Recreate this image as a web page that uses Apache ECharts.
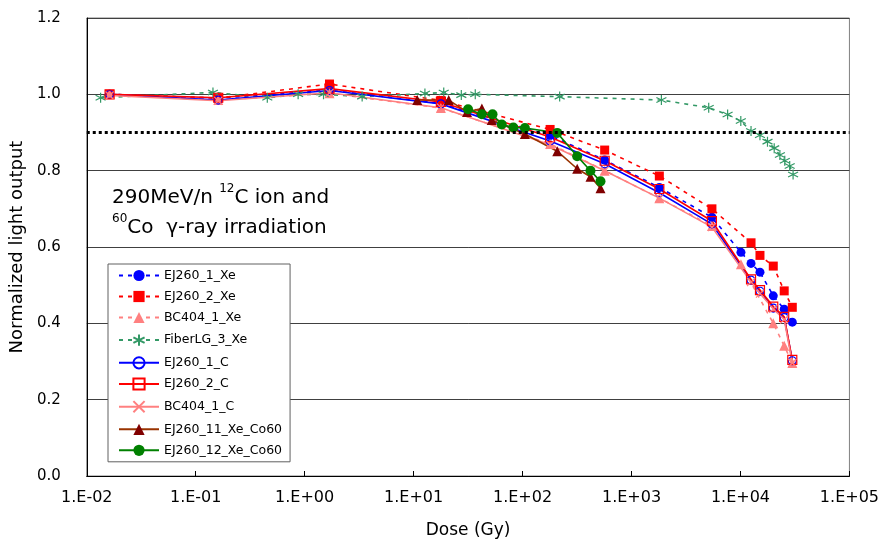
<!DOCTYPE html>
<html>
<head>
<meta charset="utf-8">
<script src="https://cdn.jsdelivr.net/npm/echarts@6/dist/echarts.min.js"></script>
<style>
html,body{margin:0;padding:0;background:#fff;overflow:hidden;width:882px;height:547px;}
#chart{width:882px;height:547px;overflow:hidden;}
</style>
</head>
<body>
<div id="chart"></div>
<script>
// ---- Data (dose in Gy, normalized light output) ----
const seriesNames = ["EJ260_1_Xe","EJ260_2_Xe","BC404_1_Xe","FiberLG_3_Xe","EJ260_1_C","EJ260_2_C","BC404_1_C","EJ260_11_Xe_Co60","EJ260_12_Xe_Co60"];

const ej260_1_Xe_dose = [0.0162, 0.161, 1.69, 17.8, 179, 567, 1800, 5470, 10100, 12500, 15100, 20000, 25200, 29900];
const ej260_1_Xe_val  = [1.0, 0.99, 1.011, 0.976, 0.892, 0.828, 0.756, 0.678, 0.586, 0.557, 0.534, 0.472, 0.437, 0.403];

const ej260_2_Xe_dose = [0.0162, 0.161, 1.69, 17.8, 179, 567, 1800, 5470, 12500, 15100, 20000, 25200, 29900];
const ej260_2_Xe_val  = [1.0, 0.99, 1.027, 0.984, 0.908, 0.854, 0.786, 0.700, 0.611, 0.578, 0.550, 0.485, 0.442];

const bc404_1_Xe_dose = [0.0162, 0.161, 1.69, 17.8, 179, 567, 1800, 5470, 10100, 20000, 25200, 29900];
const bc404_1_Xe_val  = [1.0, 0.985, 1.003, 0.964, 0.870, 0.800, 0.728, 0.655, 0.555, 0.400, 0.341, 0.296];

const fiberLG_3_Xe_dose = [0.0134, 0.144, 0.454, 0.871, 1.49, 3.37, 12.7, 18.9, 27.4, 36.8, 219, 1880, 5110, 7620, 10070, 12500, 15100, 17700, 20400, 23000, 25500, 28300, 30400];
const fiberLG_3_Xe_val  = [0.991, 1.005, 0.991, 1.0, 1.0, 0.994, 1.002, 1.005, 0.998, 1.0, 0.994, 0.985, 0.965, 0.947, 0.930, 0.904, 0.893, 0.876, 0.859, 0.841, 0.826, 0.812, 0.790];

const ej260_1_C_dose = [0.0162, 0.161, 1.69, 17.8, 179, 567, 1800, 5470, 12500, 15100, 20000, 25200, 29900];
const ej260_1_C_val  = [1.0, 0.985, 1.010, 0.975, 0.878, 0.818, 0.742, 0.660, 0.513, 0.484, 0.440, 0.415, 0.302];

const ej260_2_C_dose = [0.0162, 0.161, 1.69, 17.8, 179, 567, 1800, 5470, 12500, 15100, 20000, 25200, 29900];
const ej260_2_C_val  = [1.0, 0.991, 1.015, 0.980, 0.888, 0.826, 0.752, 0.668, 0.515, 0.487, 0.444, 0.417, 0.304];

const bc404_1_C_dose = [0.0162, 0.161, 1.69, 17.8, 179, 567, 1800, 5470, 12500, 15100, 20000, 25200, 29900];
const bc404_1_C_val  = [0.997, 0.983, 1.004, 0.965, 0.868, 0.800, 0.728, 0.652, 0.508, 0.478, 0.438, 0.410, 0.296];

const ej260_11_Co60_dose = [10.8, 21.0, 30.9, 42.3, 52.1, 105, 208, 317, 420, 519];
const ej260_11_Co60_val  = [0.985, 0.985, 0.954, 0.963, 0.933, 0.896, 0.851, 0.805, 0.784, 0.754];

const ej260_12_Co60_dose = [31.6, 42.3, 53.0, 64.4, 82.3, 105, 208, 317, 420, 519];
const ej260_12_Co60_val  = [0.961, 0.948, 0.948, 0.921, 0.913, 0.912, 0.899, 0.838, 0.800, 0.772];

const yTicks = [0.0, 0.2, 0.4, 0.6, 0.8, 1.0, 1.2];
const thresholdLevel = 0.9;

// ---- helpers ----
function pairs(xs, ys){ return xs.map((x,i)=>[x, ys[i]]); }
const FONT = "'DejaVu Sans', 'Noto Sans', sans-serif";
const starPath = 'path://M5,0L5,10M0.67,2.5L9.33,7.5M0.67,7.5L9.33,2.5';
const crossPath = 'path://M0,0L10,10M0,10L10,0';
const DASH = [4,5];

function mk(name, xs, ys, opt){
  return {
    name: name, type: 'line', data: pairs(xs, ys),
    symbol: opt.symbol, symbolSize: opt.size || 8,
    lineStyle: { color: opt.color, width: opt.width || 1.6, type: opt.dashed ? DASH : 'solid' },
    itemStyle: opt.itemStyle,
    emphasis: { disabled: true },
    animation: false, z: opt.z || 2
  };
}

const series = [
  mk(seriesNames[0], ej260_1_Xe_dose, ej260_1_Xe_val, {symbol:'circle', size:9, color:'#0000ff', dashed:true, itemStyle:{color:'#0000ff'}}),
  mk(seriesNames[1], ej260_2_Xe_dose, ej260_2_Xe_val, {symbol:'rect', size:9, color:'#ff0000', dashed:true, itemStyle:{color:'#ff0000'}}),
  mk(seriesNames[2], bc404_1_Xe_dose, bc404_1_Xe_val, {symbol:'triangle', size:10, color:'#ff8080', dashed:true, itemStyle:{color:'#ff8080'}}),
  mk(seriesNames[3], fiberLG_3_Xe_dose, fiberLG_3_Xe_val, {symbol:starPath, size:10, color:'#339966', dashed:true, itemStyle:{color:'none', borderColor:'#339966', borderWidth:1.2}}),
  mk(seriesNames[4], ej260_1_C_dose, ej260_1_C_val, {symbol:'circle', size:8, color:'#0000ff', itemStyle:{color:'rgba(255,255,255,0)', borderColor:'#0000ff', borderWidth:1.2}}),
  mk(seriesNames[5], ej260_2_C_dose, ej260_2_C_val, {symbol:'rect', size:9, color:'#ff0000', itemStyle:{color:'rgba(255,255,255,0)', borderColor:'#ff0000', borderWidth:1.2}}),
  mk(seriesNames[6], bc404_1_C_dose, bc404_1_C_val, {symbol:crossPath, size:8, color:'#ff8080', itemStyle:{color:'none', borderColor:'#ff8080', borderWidth:1.2}}),
  mk(seriesNames[7], ej260_11_Co60_dose, ej260_11_Co60_val, {symbol:'triangle', size:10, color:'#993300', itemStyle:{color:'#800000'}}),
  mk(seriesNames[8], ej260_12_Co60_dose, ej260_12_Co60_val, {symbol:'circle', size:10, color:'#008000', itemStyle:{color:'#008000'}})
];

series[0].markLine = {
  silent: true, symbol: ['none','none'], label: {show:false}, animation: false,
  lineStyle: { color:'#000', type:[3,3], width:3 },
  data: [{ yAxis: thresholdLevel }]
};

const chart = echarts.init(document.getElementById('chart'), null, {renderer:'canvas', width:882, height:547});
chart.setOption({
  animation: false,
  backgroundColor: '#ffffff',
  textStyle: { fontFamily: FONT },
  grid: { left: 85.5, right: 29, top: 18, bottom: 71, show: true, borderColor: '#808080', borderWidth: 1 },
  xAxis: {
    type: 'log', logBase: 10, min: 0.01, max: 100000, splitNumber: 7,
    name: 'Dose (Gy)', nameLocation: 'middle', nameGap: 46,
    nameTextStyle: { fontSize: 17, color: '#000', fontFamily: FONT },
    axisLine: { show: true, lineStyle: { color: '#000', width: 1 } },
    axisTick: { show: true, inside: true, length: 5, lineStyle: { color: '#000' } },
    minorTick: { show: false },
    splitLine: { show: false },
    axisLabel: {
      fontSize: 16, color: '#000', margin: 14, fontFamily: FONT,
      formatter: function(v){
        const e = Math.round(Math.log10(v));
        return '1.E' + (e < 0 ? '-' : '+') + String(Math.abs(e)).padStart(2,'0');
      }
    }
  },
  yAxis: {
    type: 'value', min: 0, max: 1.2, interval: 0.2,
    name: 'Normalized light output', nameLocation: 'middle', nameGap: 58, nameRotate: 90,
    nameTextStyle: { fontSize: 18, color: '#000', fontFamily: FONT },
    axisLine: { show: true, lineStyle: { color: '#000', width: 1 } },
    axisTick: { show: false },
    splitLine: { show: true, lineStyle: { color: '#404040', width: 1 } },
    axisLabel: {
      fontSize: 15, color: '#000', margin: 26, fontFamily: FONT,
      formatter: function(v){ return (Math.round(v*10)/10).toFixed(1); }
    }
  },
  legend: {
    orient: 'vertical', left: 108, top: 264,
    data: seriesNames,
    backgroundColor: '#ffffff', borderColor: '#606060', borderWidth: 1,
    padding: [5, 8, 5, 10],
    itemWidth: 40, itemHeight: 14, itemGap: 8,
    textStyle: { fontSize: 12.5, color: '#000', fontFamily: FONT },
    selectedMode: false
  },
  graphic: [
    {
      type: 'text', left: 112, top: 183, z: 100,
      style: {
        text: '290MeV/n {sup|12}C ion and\n{sup|60}Co  γ-ray irradiation',
        font: '20px ' + FONT, fill: '#000', lineHeight: 30,
        rich: {
          sup: { fontSize: 12, verticalAlign: 'top', lineHeight: 30, fontFamily: FONT, fill:'#000' }
        }
      }
    }
  ],
  series: series
});
</script>
</body>
</html>
